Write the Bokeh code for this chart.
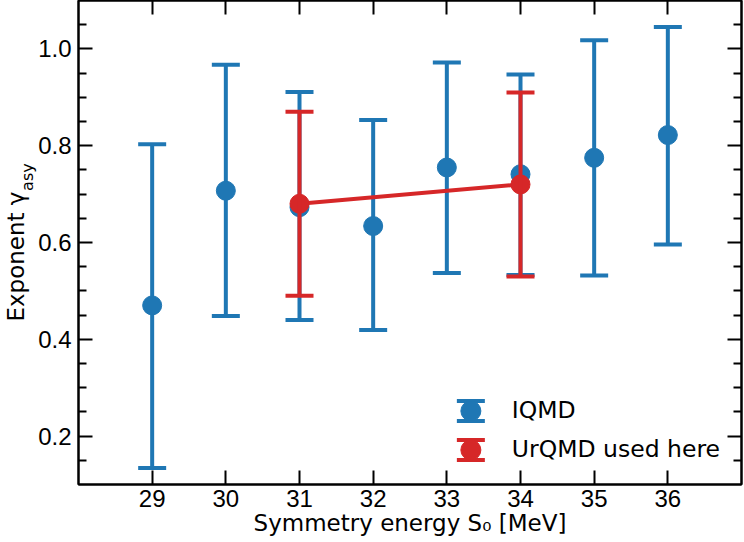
import math
from bokeh.plotting import figure
from bokeh.models import (ColumnDataSource, Whisker, TeeHead, FixedTicker, LinearAxis,
                          PrintfTickFormatter, Legend, LegendItem, Range1d,
                          CustomLabelingPolicy)
from bokeh.embed import file_html
from bokeh.resources import INLINE

# ---------------- data ----------------
s0_iqmd = [29, 30, 31, 32, 33, 34, 35, 36]
gamma_iqmd = [0.470, 0.707, 0.673, 0.634, 0.755, 0.741, 0.775, 0.822]
upper_iqmd = [0.803, 0.967, 0.911, 0.853, 0.972, 0.947, 1.018, 1.045]
lower_iqmd = [0.134, 0.448, 0.440, 0.419, 0.537, 0.533, 0.532, 0.596]

s0_urqmd = [31, 34]
gamma_urqmd = [0.680, 0.720]
upper_urqmd = [0.870, 0.910]
lower_urqmd = [0.490, 0.530]

series_labels = ["IQMD", "UrQMD used here"]
x_ticks = [29, 30, 31, 32, 33, 34, 35, 36]
y_ticks = [0.2, 0.4, 0.6, 0.8, 1.0]
y_minor_ticks = [0.15, 0.25, 0.3, 0.35, 0.45, 0.5, 0.55, 0.65, 0.7, 0.75,
                 0.85, 0.9, 0.95, 1.05]
x_limits = (28, 37)
y_limits = (0.1, 1.1)
x_title = "Symmetry energy S\u2080 [MeV]"
y_title_main = "Exponent \u03b3"
y_title_sub = "asy"

# ---------------- styles ----------------
BLUE = "#1f77b4"
RED = "#d62728"
TICK_FONT = "Liberation Sans"
TEXT_FONT = "DejaVu Sans"

p = figure(width=744, height=542,
           x_range=Range1d(*x_limits), y_range=Range1d(*y_limits),
           output_backend="svg", toolbar_location=None,
           min_border_left=78, min_border_right=3, min_border_top=0,
           min_border_bottom=58,
           background_fill_color="white", border_fill_color="white",
           outline_line_color="black", outline_line_width=2)
p.xgrid.visible = False
p.ygrid.visible = False

no_labels = CustomLabelingPolicy(code="return []")


def style_axis(ax, minor=True, labels=True):
    ax.axis_line_width = 2
    ax.axis_line_color = "black"
    ax.major_tick_in = 14
    ax.major_tick_out = 0
    ax.major_tick_line_width = 2
    ax.minor_tick_in = 8 if minor else 0
    ax.minor_tick_out = 0
    ax.minor_tick_line_width = 2
    ax.major_label_text_font = TICK_FONT
    ax.major_label_text_color = "black"
    if labels:
        ax.major_label_text_font_size = "24px"
        ax.major_label_standoff = 5
    else:
        ax.major_label_text_font_size = "0px"
        ax.major_label_standoff = 0
        ax.major_label_policy = no_labels


xt = FixedTicker(ticks=x_ticks)
yt = FixedTicker(ticks=y_ticks, minor_ticks=y_minor_ticks)

xax = p.xaxis[0]
xax.ticker = xt
xax.formatter = PrintfTickFormatter(format="%d")
style_axis(xax, minor=False)
xax.axis_label = x_title
xax.axis_label_text_font = TEXT_FONT
xax.axis_label_text_font_size = "23px"
xax.axis_label_text_font_style = "normal"
xax.axis_label_text_color = "black"
xax.axis_label_standoff = 0

yax = p.yaxis[0]
yax.ticker = yt
yax.formatter = PrintfTickFormatter(format="%.1f")
style_axis(yax, minor=True)
yax.major_label_standoff = 7

top_ax = LinearAxis(ticker=FixedTicker(ticks=x_ticks))
style_axis(top_ax, minor=False, labels=False)
p.add_layout(top_ax, "above")

right_ax = LinearAxis(ticker=FixedTicker(ticks=y_ticks, minor_ticks=y_minor_ticks))
style_axis(right_ax, minor=True, labels=False)
p.add_layout(right_ax, "right")

# ---------------- y-axis title "Exponent γ_asy" (main text + subscript) ----------------
frame_h = 481.0                      # frame height in px (layout estimate)
ppu = frame_h / (y_limits[1] - y_limits[0])
ymid = (y_limits[0] + y_limits[1]) / 2
len_main = 130.0                     # px length of main text
len_sub = 28.0                       # px length of subscript
y_main = round(ymid - (len_sub / 2) / ppu, 4)
y_sub = round(ymid + (len_main / 2) / ppu, 4)


def title_axis(pos, text, size, standoff):
    ax = LinearAxis(ticker=FixedTicker(ticks=[pos]),
                    major_label_overrides={pos: text})
    ax.axis_line_color = None
    ax.major_tick_line_color = None
    ax.minor_tick_line_color = None
    ax.major_tick_in = 0
    ax.major_tick_out = 0
    ax.minor_tick_in = 0
    ax.minor_tick_out = 0
    ax.major_label_orientation = "parallel"
    ax.major_label_text_font = TEXT_FONT
    ax.major_label_text_font_size = size
    ax.major_label_text_color = "black"
    ax.major_label_standoff = standoff
    return ax


p.add_layout(title_axis(y_sub, y_title_sub, "16px", -2), "left")
p.add_layout(title_axis(y_main, y_title_main, "23px", -14), "left")

# ---------------- data renderers ----------------
src_i = ColumnDataSource(dict(x=s0_iqmd, y=gamma_iqmd, upper=upper_iqmd, lower=lower_iqmd))
src_u = ColumnDataSource(dict(x=s0_urqmd, y=gamma_urqmd, upper=upper_urqmd, lower=lower_urqmd))

for src, col, lvl in ((src_i, BLUE, "underlay"), (src_u, RED, "glyph")):
    w = Whisker(source=src, base="x", upper="upper", lower="lower",
                line_color=col, line_width=4, level=lvl,
                upper_head=TeeHead(size=28, line_color=col, line_width=4),
                lower_head=TeeHead(size=28, line_color=col, line_width=4))
    p.add_layout(w)

r_i = p.ellipse(x="x", y="y", width=19, height=19, width_units="screen",
                height_units="screen", source=src_i,
                fill_color=BLUE, line_color=BLUE, line_width=1)
p.line(x="x", y="y", source=src_u, line_color=RED, line_width=4)
r_u = p.ellipse(x="x", y="y", width=19, height=19, width_units="screen",
                height_units="screen", source=src_u,
                fill_color=RED, line_color=RED, line_width=1)

# legend keys: error-bar caps (zero-size in the plot, visible only in the legend)
key_i = p.rect(x="x", y="y", width=0, height=0, width_units="screen",
               height_units="screen", source=src_i,
               fill_color=None, line_color=BLUE, line_width=4, line_dash="28 20")
key_u = p.rect(x="x", y="y", width=0, height=0, width_units="screen",
               height_units="screen", source=src_u,
               fill_color=None, line_color=RED, line_width=4, line_dash="28 20")

legend = Legend(items=[LegendItem(label=series_labels[0], renderers=[key_i, r_i]),
                       LegendItem(label=series_labels[1], renderers=[key_u, r_u])],
                location="bottom_right", glyph_width=35, glyph_height=25,
                label_standoff=24, label_text_font=TEXT_FONT,
                label_text_font_size="23.5px", label_text_color="black",
                label_height=26, spacing=11,
                padding=10, margin=21, border_line_color=None,
                background_fill_alpha=0)
p.add_layout(legend)

open("out.html", "w").write(file_html(p, INLINE))
